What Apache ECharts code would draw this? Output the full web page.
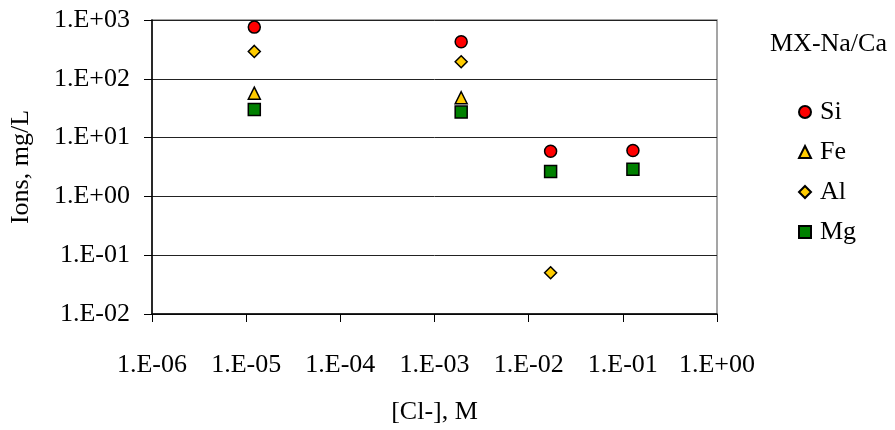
<!DOCTYPE html>
<html>
<head>
<meta charset="utf-8">
<script src="https://cdn.jsdelivr.net/npm/echarts@6/dist/echarts.min.js"></script>
<style>html,body{margin:0;padding:0;background:#fff}#c{width:895px;height:430px}</style>
</head>
<body>
<div id="c"></div>
<script>
// Data
const clConc = [1.22e-5, 1.92e-3, 0.0171, 0.128];
const siVals = [757, 428, 5.87, 6.03];
const feVals = [57, 47.6, null, null];
const alVals = [292, 195, 0.0504, null];
const mgVals = [30, 27.2, 2.64, 2.89];
const xTickLabels = ['1.E-06', '1.E-05', '1.E-04', '1.E-03', '1.E-02', '1.E-01', '1.E+00'];
const yTickLabels = ['1.E-02', '1.E-01', '1.E+00', '1.E+01', '1.E+02', '1.E+03'];
const legendTitle = 'MX-Na/Ca';
const xTitle = '[Cl-], M';
const yTitle = 'Ions, mg/L';

const FONT = "'Liberation Serif', 'Times New Roman', serif";
function pairs(ys) {
  const out = [];
  ys.forEach((y, i) => { if (y !== null) out.push([clConc[i], y]); });
  return out;
}
function mk(name, vals, symbol, color, size) {
  return {
    name, type: 'scatter', data: pairs(vals), symbol, symbolSize: size,
    itemStyle: { color, borderColor: '#000', borderWidth: 1.5, opacity: 1 },
    emphasis: { disabled: true }
  };
}
const chart = echarts.init(document.getElementById('c'), null, { renderer: 'canvas' });
chart.setOption({
  animation: false,
  backgroundColor: '#fff',
  title: {
    text: legendTitle, left: 770, top: 31, padding: 0,
    textStyle: { fontFamily: FONT, fontSize: 26, fontWeight: 'normal', color: '#000' }
  },
  legend: {
    orient: 'vertical', left: 798, top: 99, itemWidth: 12, itemHeight: 12, itemGap: 14,
    padding: 0,
    textStyle: { fontFamily: FONT, fontSize: 26, color: '#000', padding: [0, 0, 0, 4] },
    data: ['Si', 'Fe', 'Al', 'Mg']
  },
  grid: { left: 150, right: 178, top: 20, bottom: 107, containLabel: false,
    show: true, borderColor: '#888', borderWidth: 1.5 },
  xAxis: {
    type: 'log', logBase: 10, min: 1e-6, max: 1, splitNumber: 6,
    name: xTitle, nameLocation: 'middle', nameGap: 85,
    nameTextStyle: { fontFamily: FONT, fontSize: 26, color: '#000' },
    axisLine: { lineStyle: { color: '#000', width: 1.5 } },
    axisTick: { show: true, length: 8, lineStyle: { color: '#000', width: 1 } },
    splitLine: { show: false },
    minorTick: { show: false },
    axisLabel: {
      margin: 38, fontFamily: FONT, fontSize: 26, color: '#000',
      formatter: v => xTickLabels[Math.round(Math.log10(v)) + 6]
    }
  },
  yAxis: {
    type: 'log', logBase: 10, min: 0.01, max: 1000, splitNumber: 5,
    name: yTitle, nameLocation: 'middle', nameGap: 118, nameRotate: 90,
    nameTextStyle: { fontFamily: FONT, fontSize: 26, color: '#000' },
    axisLine: { lineStyle: { color: '#000', width: 1.5 } },
    axisTick: { show: true, length: 8, lineStyle: { color: '#000', width: 1 } },
    splitLine: { show: true, lineStyle: { color: '#222', width: 1 } },
    axisLabel: {
      margin: 22, fontFamily: FONT, fontSize: 26, color: '#000',
      formatter: v => yTickLabels[Math.round(Math.log10(v)) + 2]
    }
  },
  series: [
    mk('Si', siVals, 'circle', '#ff0000', 12),
    mk('Fe', feVals, 'triangle', '#ffcc00', 12),
    mk('Al', alVals, 'diamond', '#ffcc00', 12),
    mk('Mg', mgVals, 'rect', '#008000', 12)
  ]
});
</script>
</body>
</html>
